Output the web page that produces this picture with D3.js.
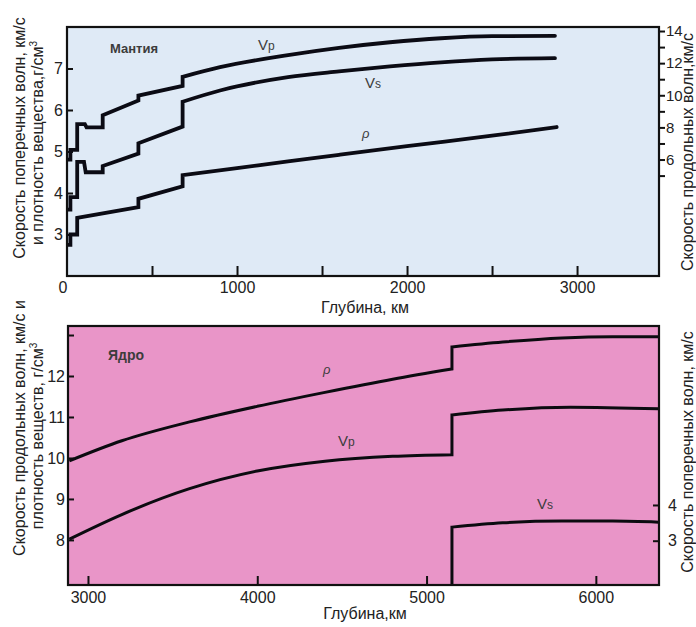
<!DOCTYPE html>
<html><head><meta charset="utf-8">
<script src="https://cdn.jsdelivr.net/npm/d3@7"></script>
<style>
body{margin:0;background:#fff;}
svg{display:block;font-family:"Liberation Sans",Arial,sans-serif;}
</style></head><body>
<svg id="c" width="696" height="627"></svg>
<script>
// ---------- Mantle (top panel) ----------
const mantleDepthTicks = [0, 500, 1000, 1500, 2000, 2500, 3000];
const mantleDepthLabels = [0, 1000, 2000, 3000];
const mantleLeftTicks = [3, 4, 5, 6, 7];
const mantleRightTicks = [5, 6, 7, 8, 9, 10, 11, 12, 13, 14];
const mantleRightLabels = [6, 8, 10, 12, 14];
// Vp (right axis), km/s — continuous pieces
const mantleVp = [
  [[0, 6.0], [20, 6.0]],
  [[20, 6.6], [60, 6.6]],
  [[60, 8.2], [105, 8.2]],
  [[115, 8.0], [210, 8.0]],
  [[210, 8.75], [420, 9.67]],
  [[420, 9.98], [680, 10.58]],
  [[680, 11.15], [900, 11.75], [1300, 12.5], [1600, 12.95], [1900, 13.3], [2200, 13.55], [2500, 13.68], [2870, 13.7]]
];
// Vs (left axis), km/s
const mantleVs = [
  [[0, 3.6], [20, 3.6]],
  [[20, 3.9], [60, 3.9]],
  [[60, 4.75], [100, 4.75]],
  [[110, 4.5], [210, 4.5]],
  [[210, 4.65], [420, 4.95]],
  [[420, 5.2], [680, 5.6]],
  [[680, 6.2], [900, 6.47], [1300, 6.79], [1600, 6.93], [1900, 7.05], [2200, 7.15], [2500, 7.22], [2870, 7.25]]
];
// density (left axis), g/cm3
const mantleRho = [
  [[0, 2.75], [20, 2.75]],
  [[20, 3.0], [60, 3.0]],
  [[60, 3.4], [420, 3.66]],
  [[420, 3.86], [680, 4.16]],
  [[680, 4.43], [1000, 4.6], [1300, 4.76], [1600, 4.92], [2000, 5.13], [2500, 5.38], [2880, 5.59]]
];
const mantleNotes = [
  {t: "Мантия", d: 253, v: 7.37, size: 13, weight: "bold"},
  {t: "V", sub: "p", d: 1124, v: 7.45, size: 15},
  {t: "V", sub: "s", d: 1753, v: 6.53, size: 15},
  {t: "ρ", d: 1735, v: 5.33, size: 13, italic: true}
];

// ---------- Core (bottom panel) ----------
const coreDepthTicks = [3000, 4000, 5000, 6000];
const coreLeftTicks = [8, 9, 10, 11, 12, 13];
const coreLeftLabels = [8, 9, 10, 11, 12];
const coreRightTicks = [3, 4];
const coreRho = [
  [[2890, 9.93], [3200, 10.42], [3600, 10.88], [4000, 11.26], [4400, 11.6], [4800, 11.92], [5150, 12.17]],
  [[5150, 12.71], [5450, 12.83], [5800, 12.93], [6100, 12.96], [6371, 12.96]]
];
const coreVp = [
  [[2890, 8.02], [3200, 8.62], [3600, 9.25], [4000, 9.68], [4400, 9.92], [4800, 10.04], [5150, 10.08]],
  [[5150, 11.05], [5450, 11.17], [5850, 11.24], [6371, 11.2]]
];
// Vs (right axis): zero in the liquid outer core
const coreVs = [
  [[2890, 0], [5150, 0]],
  [[5150, 3.38], [5450, 3.5], [5800, 3.55], [6100, 3.55], [6371, 3.52]]
];
const coreNotes = [
  {t: "Ядро", d: 3118, v: 12.39, size: 14, weight: "bold"},
  {t: "ρ", d: 4388, v: 12.05, size: 13, italic: true},
  {t: "V", sub: "p", d: 4477, v: 10.29, size: 15},
  {t: "V", sub: "s", d: 5652, v: 8.76, size: 15}
];

const svg = d3.select("#c");
const TXT = "#222";
const fmt = d3.format("d");

function pathFrom(segs, x, y) {
  const line = d3.line().x(d => x(d[0])).y(d => y(d[1])).curve(d3.curveMonotoneX);
  return segs.map((s, i) => { const d = line(s); return i ? "L" + d.slice(1) : d; }).join("");
}

function notes(g, arr, x, y) {
  arr.forEach(n => {
    const t = g.append("text").attr("x", x(n.d)).attr("y", y(n.v))
      .attr("font-size", n.size).attr("fill", "#3c3c3c")
      .attr("font-weight", n.weight || "normal")
      .attr("font-style", n.italic ? "italic" : "normal");
    t.append("tspan").text(n.t);
    if (n.sub) t.append("tspan").attr("font-size", n.size * 0.8).text(n.sub);
  });
}

function styleAxis(g, size) {
  g.select(".domain").remove();
  g.selectAll(".tick line").attr("stroke", "#111").attr("stroke-width", 2);
  g.selectAll(".tick text").attr("fill", TXT).attr("font-size", size)
    .attr("font-family", '"Liberation Sans",Arial,sans-serif');
}

// ===== TOP PANEL =====
{
  const L = 67, R = 659, T = 27, B = 276;
  const x = d3.scaleLinear().domain([0, 3482]).range([L, R]);
  const yL = d3.scaleLinear().domain([2, 8]).range([B, T]);
  const yR = d3.scaleLinear().domain([-1.25, 14.25]).range([B, T]);

  svg.append("rect").attr("x", L).attr("y", T).attr("width", R - L).attr("height", B - T).attr("fill", "#dfeaf6");
  svg.append("clipPath").attr("id", "clipT").append("rect").attr("x", L).attr("y", T).attr("width", R - L).attr("height", B - T);

  const gx = svg.append("g").attr("transform", `translate(0,${B})`)
    .call(d3.axisBottom(x).tickValues(mantleDepthTicks).tickSizeInner(-10).tickSizeOuter(0).tickPadding(6)
      .tickFormat(d => mantleDepthLabels.includes(d) ? fmt(d) : ""));
  styleAxis(gx, 16);
  gx.selectAll(".tick").filter(d => d === 0).select("line").remove();
  gx.selectAll(".tick").filter(d => d === 0).select("text").attr("text-anchor", "end").attr("x", 0);

  const gl = svg.append("g").attr("transform", `translate(${L},0)`)
    .call(d3.axisLeft(yL).tickValues(mantleLeftTicks).tickSizeInner(-6).tickSizeOuter(0).tickPadding(4).tickFormat(fmt));
  styleAxis(gl, 16);

  const gr = svg.append("g").attr("transform", `translate(${R},0)`)
    .call(d3.axisRight(yR).tickValues(mantleRightTicks).tickSizeInner(6).tickSizeOuter(0).tickPadding(1)
      .tickFormat(d => mantleRightLabels.includes(d) ? fmt(d) : ""));
  styleAxis(gr, 15);

  const gp = svg.append("g").attr("clip-path", "url(#clipT)");
  [[mantleVp, yR], [mantleVs, yL], [mantleRho, yL]].forEach(([s, y]) => {
    gp.append("path").attr("d", pathFrom(s, x, y)).attr("fill", "none")
      .attr("stroke", "#0b0b14").attr("stroke-width", 3.8).attr("stroke-linejoin", "miter").attr("stroke-linecap", "round");
  });
  svg.append("rect").attr("x", L).attr("y", T).attr("width", R - L).attr("height", B - T)
    .attr("fill", "none").attr("stroke", "#111").attr("stroke-width", 2.2);
  notes(svg.append("g"), mantleNotes, x, yL);

  // titles
  const tl = svg.append("g").attr("fill", TXT).attr("font-size", 16);
  tl.append("text").attr("transform", "translate(25,138) rotate(-90)").attr("text-anchor", "middle")
    .text("Скорость поперечных волн, км/с");
  tl.append("text").attr("transform", "translate(43,143) rotate(-90)").attr("text-anchor", "middle")
    .html('и плотность вещества,г/см<tspan dy="-6" font-size="10">3</tspan>');
  tl.append("text").attr("transform", "translate(693,152) rotate(-90)").attr("text-anchor", "middle")
    .text("Скорость продольных волн,км/с");
  tl.append("text").attr("x", 365).attr("y", 313).attr("text-anchor", "middle").text("Глубина, км");
}

// ===== BOTTOM PANEL =====
{
  const L = 68, R = 659, T = 326, B = 585;
  const x = d3.scaleLinear().domain([2882, 6373]).range([L, R]);
  const yL = d3.scaleLinear().domain([6.9, 13.22]).range([B, T]);
  const yR = d3.scaleLinear().domain([1.76, 9.01]).range([B, T]);

  svg.append("rect").attr("x", L).attr("y", T).attr("width", R - L).attr("height", B - T).attr("fill", "#e995c8");
  svg.append("clipPath").attr("id", "clipB").append("rect").attr("x", L).attr("y", T).attr("width", R - L).attr("height", B - T);

  const gx = svg.append("g").attr("transform", `translate(0,${B})`)
    .call(d3.axisBottom(x).tickValues(coreDepthTicks).tickSizeInner(-9).tickSizeOuter(0).tickPadding(7).tickFormat(fmt));
  styleAxis(gx, 16);

  const gl = svg.append("g").attr("transform", `translate(${L},0)`)
    .call(d3.axisLeft(yL).tickValues(coreLeftTicks).tickSizeInner(-6).tickSizeOuter(0).tickPadding(3)
      .tickFormat(d => coreLeftLabels.includes(d) ? fmt(d) : ""));
  styleAxis(gl, 16);

  const gr = svg.append("g").attr("transform", `translate(${R},0)`)
    .call(d3.axisRight(yR).tickValues(coreRightTicks).tickSizeInner(-6).tickSizeOuter(0).tickPadding(9).tickFormat(fmt));
  styleAxis(gr, 16);

  const gp = svg.append("g").attr("clip-path", "url(#clipB)");
  [[coreRho, yL], [coreVp, yL], [coreVs, yR]].forEach(([s, y]) => {
    gp.append("path").attr("d", pathFrom(s, x, y)).attr("fill", "none")
      .attr("stroke", "#0b0b10").attr("stroke-width", 3).attr("stroke-linejoin", "miter");
  });
  svg.append("rect").attr("x", L).attr("y", T).attr("width", R - L).attr("height", B - T)
    .attr("fill", "none").attr("stroke", "#111").attr("stroke-width", 2.2);
  notes(svg.append("g"), coreNotes, x, yL);

  const tl = svg.append("g").attr("fill", TXT).attr("font-size", 16);
  tl.append("text").attr("transform", "translate(25,428) rotate(-90)").attr("text-anchor", "middle")
    .text("Скорость продольных волн, км/с и");
  tl.append("text").attr("transform", "translate(43,436) rotate(-90)").attr("text-anchor", "middle")
    .html('плотность веществ, г/см<tspan dy="-6" font-size="10">3</tspan>');
  tl.append("text").attr("transform", "translate(693,452) rotate(-90)").attr("text-anchor", "middle")
    .text("Скорость поперечных волн, км/с");
  tl.append("text").attr("x", 365).attr("y", 619).attr("text-anchor", "middle").text("Глубина,км");
}
</script>
</body></html>
